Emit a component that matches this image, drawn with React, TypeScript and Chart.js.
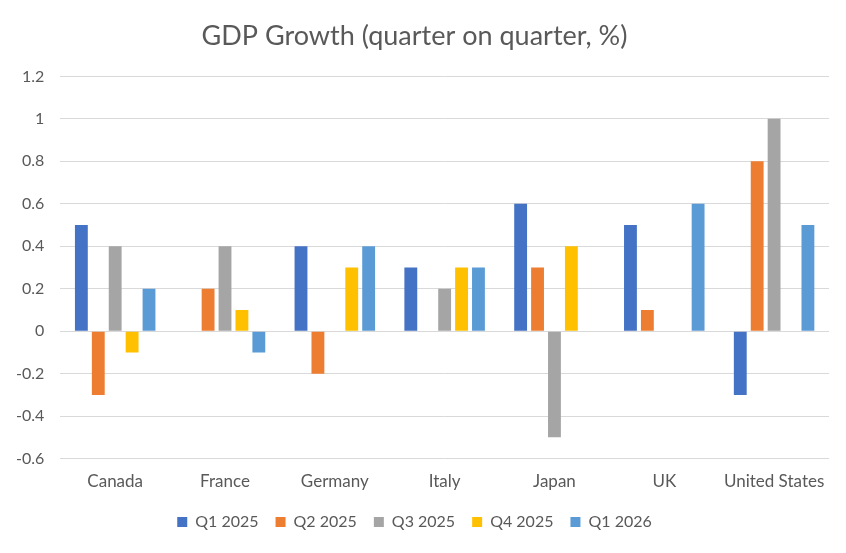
import React, { useEffect, useRef } from "react";
import { Chart, registerables } from "chart.js";

Chart.register(...registerables);

const categories = ["Canada", "France", "Germany", "Italy", "Japan", "UK", "United States"];
const seriesNames = ["Q1 2025", "Q2 2025", "Q3 2025", "Q4 2025", "Q1 2026"];
const q1_2025 = [0.5, 0, 0.4, 0.3, 0.6, 0.5, -0.3];
const q2_2025 = [-0.3, 0.2, -0.2, 0, 0.3, 0.1, 0.8];
const q3_2025 = [0.4, 0.4, 0, 0.2, -0.5, 0, 1.0];
const q4_2025 = [-0.1, 0.1, 0.3, 0.3, 0.4, 0, 0];
const q1_2026 = [0.2, -0.1, 0.4, 0.3, 0, 0.6, 0.5];
const colors = ["#4472C4", "#ED7D31", "#A5A5A5", "#FFC000", "#5B9BD5"];

const FONT = "Lato, 'Open Sans', sans-serif";

export default function App() {
  const ref = useRef<HTMLCanvasElement>(null);
  useEffect(() => {
    document.body.style.margin = "0";
    const values = [q1_2025, q2_2025, q3_2025, q4_2025, q1_2026];
    const chart = new Chart(ref.current!, {
      type: "bar",
      data: {
        labels: categories,
        datasets: seriesNames.map((name, i) => ({
          label: name,
          data: values[i],
          backgroundColor: colors[i],
          borderWidth: 0,
          categoryPercentage: 0.77,
          barPercentage: 0.76,
        })),
      },
      options: {
        animation: false,
        responsive: false,
        maintainAspectRatio: false,
        layout: { padding: { left: 0, right: 17, top: 12, bottom: 13 } },
        plugins: {
          title: {
            display: true,
            text: "GDP Growth (quarter on quarter, %)",
            color: "#595959",
            font: { family: FONT, size: 27, weight: "normal" },
            padding: { top: 8, bottom: 24 },
          },
          legend: {
            position: "bottom",
            labels: {
              boxWidth: 10,
              boxHeight: 10,
              color: "#595959",
              font: { family: FONT, size: 16 },
              padding: 17,
            },
          },
          tooltip: { enabled: false },
        },
        scales: {
          x: {
            grid: { display: false },
            border: { display: false },
            ticks: { color: "#595959", font: { family: FONT, size: 17 }, padding: 5 },
          },
          y: {
            min: -0.6,
            max: 1.2,
            ticks: {
              stepSize: 0.2,
              color: "#595959",
              font: { family: FONT, size: 16 },
              padding: 16,
              callback: (v: any) => String(Math.round(Number(v) * 10) / 10),
            },
            grid: { color: "#D9D9D9", lineWidth: 1, drawTicks: false },
            border: { display: false },
          },
        },
      },
    });
    return () => chart.destroy();
  }, []);
  return <canvas ref={ref} width={846} height={553} style={{ display: "block" }} />;
}
